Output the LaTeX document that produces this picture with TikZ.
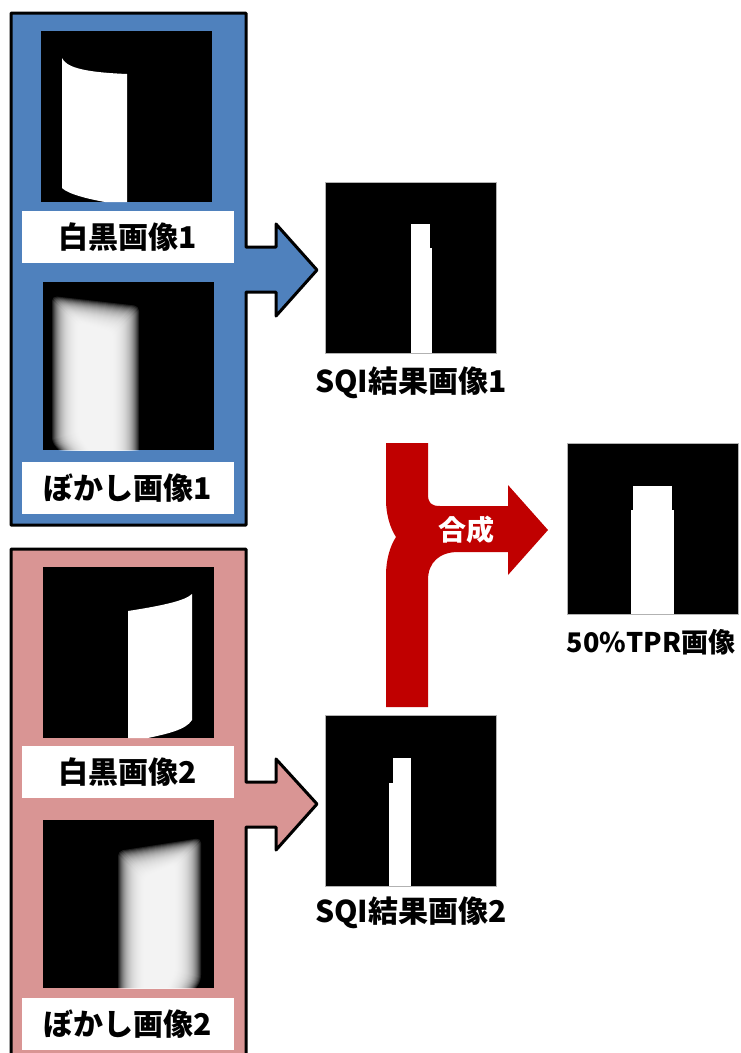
\documentclass[tikz,border=0pt]{standalone}
\usepackage{fontspec}
\setmainfont{Noto Sans CJK JP}
\definecolor{pblue}{HTML}{4F81BD}
\definecolor{ppink}{HTML}{D99594}
\definecolor{dred}{HTML}{C00000}
\tikzset{
  panel/.style={draw=black, line width=3pt, line join=round},
  img/.style={fill=black, minimum width=171pt, minimum height=171pt, inner sep=0pt, outer sep=0pt},
  imgb/.style={img, minimum height=168pt},
  res/.style={img, draw=gray!60, line width=0.6pt},
  lbl/.style={fill=white, minimum width=212pt, minimum height=52pt, inner sep=0pt,
    font=\fontsize{30pt}{32pt}\selectfont\bfseries},
  captext/.style={inner sep=0pt, font=\fontsize{30pt}{32pt}\selectfont\bfseries},
  blurlayer/.style={white, fill opacity=0.12, rounded corners=5pt}
}
\begin{document}
\begin{tikzpicture}[x=1pt,y=-1pt]
\useasboundingbox (0,0) rectangle (741,1053);
\begin{scope}
\clip (0,0) rectangle (741,1053);
% blue panel with its arrow
\draw[panel, fill=pblue] (11,13) -- (246,13) -- (246,247) -- (276,247) -- (276,224)
  -- (317,270) -- (276,316) -- (276,292) -- (246,292) -- (246,525) -- (11,525) -- cycle;
% pink panel with its arrow
\draw[panel, fill=ppink] (11,549) -- (246,549) -- (246,782) -- (276,782) -- (276,759)
  -- (317,804) -- (276,850) -- (276,827) -- (246,827) -- (246,1075) -- (11,1075) -- cycle;
\end{scope}

% ---- blue panel contents
\node[img] (bw1) at (126.5,116.5) {};
\fill[white] (62,58) .. controls (66,66) and (78,72) .. (127,74) -- (127,202) -- (105,202)
  .. controls (88,199) and (68,194) .. (62,188) -- cycle;
\node[lbl] (bw1l) at (128,237) {白黒画像1};

\node[imgb] (bl1) at (128,366) {};
\begin{scope}
\clip (bl1.north west) rectangle (bl1.south east);
\foreach \d in {14,13,...,-12}
  \fill[blurlayer] ({66-(\d)},{310-(\d)}) -- ({125+(\d)},{320-(\d)}) -- ({125+(\d)},475)
    -- ({95-(\d)},475) -- ({66-(\d)},{438+0.3*(\d)}) -- cycle;
\end{scope}
\node[lbl] (bl1l) at (128,488) {ぼかし画像1};

% ---- pink panel contents
\node[img] (bw2) at (128,652.5) {};
\fill[white] (128,611) .. controls (160,606) and (185,601) .. (192,594) -- (192,720)
  .. controls (186,730) and (166,734) .. (148,738) -- (128,738) -- cycle;
\node[lbl] (bw2l) at (128,772) {白黒画像2};

\node[imgb] (bl2) at (128,904) {};
\begin{scope}
\clip (bl2.north west) rectangle (bl2.south east);
\foreach \d in {14,13,...,-12}
  \fill[blurlayer] ({132-(\d)},{865-(\d)}) -- ({187+(\d)},{852-(\d)}) -- ({187+(\d)},{976+0.3*(\d)})
    -- ({168+(\d)},1010) -- ({132-(\d)},1010) -- cycle;
\end{scope}
\node[lbl] (bl2l) at (128,1024) {ぼかし画像2};

% ---- SQI results
\node[res] (sqi1) at (411,267.5) {};
\fill[white] (411,224) rectangle (430,353);
\fill[white] (411,248) rectangle (432,353);
\node[captext] (sqi1c) at (411,383) {SQI結果画像1};

\node[res] (sqi2) at (411,801) {};
\fill[white] (393,758) rectangle (411,886);
\fill[white] (389,783) rectangle (411,886);
\node[captext] (sqi2c) at (411,913) {SQI結果画像2};

% ---- merge arrow
\fill[dred] (386,443) -- (428,443) -- (428,494) .. controls (428,503) and (431,506) .. (440,506)
  -- (508,506) -- (508,485) -- (548,530) -- (508,575) -- (508,552) -- (458,552)
  .. controls (440,552) and (428,562) .. (428,580) -- (428,707) -- (386,707) -- (386,575)
  .. controls (386,560) and (390,546) .. (396,537) .. controls (390,528) and (386,514) .. (386,500) -- cycle;
\node[captext, text=white, font=\fontsize{28pt}{30pt}\selectfont\bfseries] (merge) at (466,530) {合成};

% ---- 50% TPR
\node[res] (tpr) at (652.5,528.5) {};
\fill[white] (633,486) rectangle (672,614);
\fill[white] (631,510) rectangle (674,614);
\node[captext, font=\fontsize{27pt}{30pt}\selectfont\bfseries] (tprc) at (651,642) {50\%TPR画像};
\end{tikzpicture}
\end{document}
